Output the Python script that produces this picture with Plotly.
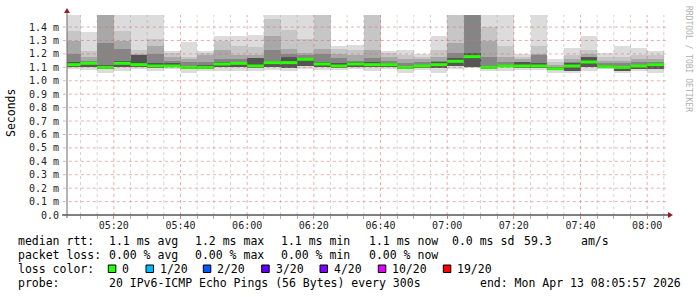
import plotly.graph_objects as go
import pandas as pd

# ---------------- data (ms) ----------------
end_time = pd.Timestamp("2026-04-13 08:05:57")
start_time = end_time - pd.Timedelta(hours=3)
bar_ends = pd.date_range("2026-04-13 05:10", "2026-04-13 08:05", freq="5min")
step_ms = 300000

median = [1.12, 1.13, 1.10, 1.13, 1.12, 1.11, 1.11, 1.10, 1.10, 1.125, 1.13, 1.11,
          1.135, 1.135, 1.16, 1.125, 1.11, 1.125, 1.12, 1.12, 1.10, 1.11, 1.12, 1.145,
          1.18, 1.10, 1.11, 1.11, 1.11, 1.09, 1.11, 1.14, 1.105, 1.10, 1.11, 1.12]
ping_max = [1.5, 1.36, 1.5, 1.5, 1.5, 1.5, 1.225, 1.29, 1.225, 1.33, 1.33, 1.34,
            1.5, 1.5, 1.5, 1.5, 1.26, 1.265, 1.5, 1.22, 1.23, 1.20, 1.33, 1.5,
            1.5, 1.5, 1.5, 1.20, 1.5, 1.16, 1.245, 1.33, 1.21, 1.26, 1.245, 1.22]
upper1 = [1.37, 1.22, 1.5, 1.37, 1.23, 1.31, 1.21, 1.18, 1.21, 1.30, 1.26, 1.25,
          1.46, 1.38, 1.31, 1.5, 1.24, 1.23, 1.5, 1.21, 1.19, 1.18, 1.23, 1.5,
          1.5, 1.40, 1.26, 1.18, 1.26, 1.14, 1.19, 1.23, 1.18, 1.18, 1.19, 1.19]
upper2 = [1.30, 1.18, 1.5, 1.30, 1.20, 1.26, 1.18, 1.165, 1.19, 1.23, 1.19, 1.19,
          1.33, 1.24, 1.21, 1.234, 1.20, 1.19, 1.23, 1.18, 1.16, 1.16, 1.18, 1.28,
          1.5, 1.30, 1.18, 1.16, 1.20, 1.12, 1.16, 1.20, 1.15, 1.15, 1.16, 1.16]
upper3 = [1.20, 1.15, 1.28, 1.24, 1.19, 1.20, 1.15, 1.14, 1.14, 1.16, 1.16, 1.17,
          1.23, 1.20, 1.19, 1.20, 1.17, 1.15, 1.17, 1.15, 1.13, 1.14, 1.15, 1.21,
          1.5, 1.18, 1.14, 1.14, 1.19, 1.105, 1.14, 1.18, 1.13, 1.13, 1.14, 1.14]
upper4 = [1.14, 1.14, 1.12, 1.15, 1.19, 1.13, 1.13, 1.11, 1.12, 1.14, 1.14, 1.17,
          1.15, 1.18, 1.17, 1.14, 1.13, 1.14, 1.14, 1.13, 1.11, 1.12, 1.14, 1.17,
          1.21, 1.11, 1.12, 1.14, 1.13, 1.10, 1.13, 1.18, 1.12, 1.11, 1.12, 1.13]
lower1 = [1.10, 1.10, 1.09, 1.10, 1.10, 1.095, 1.10, 1.09, 1.09, 1.10, 1.10, 1.095,
          1.10, 1.095, 1.11, 1.10, 1.095, 1.10, 1.10, 1.10, 1.085, 1.095, 1.095, 1.11,
          1.10, 1.09, 1.10, 1.095, 1.095, 1.08, 1.07, 1.10, 1.095, 1.07, 1.09, 1.09]
ping_min = [1.085, 1.08, 1.06, 1.07, 1.085, 1.07, 1.085, 1.06, 1.075, 1.07, 1.075, 1.075,
            1.08, 1.07, 1.09, 1.08, 1.08, 1.085, 1.075, 1.085, 1.055, 1.08, 1.06, 1.09,
            1.095, 1.07, 1.07, 1.08, 1.08, 1.06, 1.06, 1.07, 1.085, 1.06, 1.075, 1.06]

y_ticks = [round(0.1 * i, 1) for i in range(15)]
y_ticktext = ["0.0"] + [f"{v:.1f} m" for v in y_ticks[1:]]

loss_labels = ["0", "1/20", "2/20", "3/20", "4/20", "10/20", "19/20"]
loss_colors = ["#26ff00", "#00b8ff", "#0059ff", "#5e00ff", "#7e00ff", "#dd00ff", "#ff0000"]

# ---------------- figure ----------------
W, H = 697, 297
L, R, T, B = 67, 30, 15, 82
PW, PH = W - L - R, H - T - B


def px(x):
    return (x - L) / PW


def py(y):
    return (H - B - y) / PH


centers = bar_ends - pd.Timedelta(milliseconds=step_ms // 2)
fig = go.Figure()

levels = [
    (ping_min, ping_max, "#dcdcdc"),
    (lower1, upper1, "#c6c6c6"),
    (lower1, upper2, "#a8a8a8"),
    (lower1, upper3, "#858585"),
    (lower1, upper4, "#555555"),
]
for lo, hi, col in levels:
    fig.add_trace(go.Bar(
        x=centers, base=lo, y=[h - l for h, l in zip(hi, lo)],
        width=step_ms, marker=dict(color=col, line=dict(width=0)),
        hoverinfo="skip"))

mx, my = [], []
for e, m in zip(bar_ends, median):
    mx += [e - pd.Timedelta(milliseconds=step_ms), e, None]
    my += [m, m, None]
fig.add_trace(go.Scatter(x=mx, y=my, mode="lines",
                         line=dict(color=loss_colors[0], width=3), hoverinfo="skip"))

shapes = []
# grid (above the smoke, like rrdtool)
for t in bar_ends:
    major = t.minute % 20 == 0
    shapes.append(dict(type="line", xref="x", yref="paper", x0=t, x1=t, y0=0, y1=1,
                       layer="above",
                       line=dict(color="rgba(215,110,110,0.55)" if major else "rgba(160,160,160,0.45)",
                                 width=1, dash="dot")))
for v in y_ticks[1:]:
    shapes.append(dict(type="line", xref="paper", yref="y", x0=-0.007, x1=1.002, y0=v, y1=v,
                       layer="above", line=dict(color="rgba(215,110,110,0.55)", width=1, dash="dot")))
# axes
shapes.append(dict(type="line", xref="paper", yref="paper", x0=-0.008, x1=1.002, y0=0, y1=0,
                   layer="above", line=dict(color="black", width=1)))
shapes.append(dict(type="line", xref="paper", yref="paper", x0=0, x1=0, y0=-0.015, y1=1.01,
                   layer="above", line=dict(color="#6a6a6a", width=1)))
# arrows
shapes.append(dict(type="path", xref="paper", yref="paper", layer="above",
                   path=f"M {px(64)},{py(13)} L {px(70)},{py(13)} L {px(67)},{py(8)} Z",
                   fillcolor="#9b1c1c", line=dict(width=0)))
shapes.append(dict(type="path", xref="paper", yref="paper", layer="above",
                   path=f"M {px(668)},{py(212)} L {px(668)},{py(218)} L {px(673)},{py(215)} Z",
                   fillcolor="#9b1c1c", line=dict(width=0)))

annotations = []


def txt(x, y, s, size=11.5, color="#000", **kw):
    d = dict(xref="paper", yref="paper", x=px(x), y=py(y), text=s, showarrow=False,
             xanchor="left", yanchor="middle",
             font=dict(family="DejaVu Sans Mono", size=size, color=color))
    d.update(kw)
    annotations.append(d)


# axis title and watermark
txt(11, 113, "Seconds", textangle=-90, xanchor="center")
txt(688, 59, "RRDTOOL / TOBI OETIKER", size=8, color="#b0b0b0", textangle=90, xanchor="center")

# legend lines
line1 = [(16, "median rtt:"), (107, "1.1 ms avg"), (193, "1.2 ms max"), (279, "1.1 ms min"),
         (366.5, "1.1 ms now"), (450, "0.0 ms sd"), (522, "59.3"), (579, "am/s")]
for x, s in line1:
    txt(x, 241, s)
line2 = [(16, "packet loss:"), (107, "0.00 % avg"), (193, "0.00 % max"), (279, "0.00 % min"),
         (366.5, "0.00 % now")]
for x, s in line2:
    txt(x, 255, s)
txt(16, 269, "loss color:")
box_x = [108.3, 146, 203.3, 261.7, 320, 378.3, 443.3]
for bx, lab, col in zip(box_x, loss_labels, loss_colors):
    shapes.append(dict(type="rect", xref="paper", yref="paper",
                       x0=px(bx), x1=px(bx + 7.5), y0=py(272.5), y1=py(265),
                       fillcolor=col, line=dict(color="black", width=1)))
    txt(bx + 12, 269, lab)
txt(16, 283, "probe:")
txt(107, 283, "20 IPv6-ICMP Echo Pings (56 Bytes) every 300s")
txt(478, 283, "end: Mon Apr 13 08:05:57 2026")

fig.update_layout(
    width=W, height=H, margin=dict(l=L, r=R, t=T, b=B, pad=0),
    paper_bgcolor="white", plot_bgcolor="white",
    showlegend=False, barmode="overlay", bargap=0,
    font=dict(family="DejaVu Sans Mono", size=10, color="#222"),
    shapes=shapes, annotations=annotations,
    xaxis=dict(type="date", range=[start_time, end_time], tickformat="%H:%M",
               dtick=1200000, tick0="2026-04-13 05:20:00",
               ticks="outside", ticklen=3, tickcolor="#d08080",
               ticklabelstandoff=-2,
               showgrid=False, zeroline=False, showline=False,
               minor=dict(dtick=300000, tick0="2026-04-13 05:10:00", ticks="outside",
                          ticklen=3, tickcolor="#b0b0b0", showgrid=False),
               tickfont=dict(family="DejaVu Sans Mono", size=10, color="#222")),
    yaxis=dict(range=[0, 1.49], tickmode="array", tickvals=y_ticks, ticktext=y_ticktext,
               ticks="", showgrid=False, zeroline=False, showline=False,
               ticklabelstandoff=7,
               tickfont=dict(family="DejaVu Sans Mono", size=10, color="#222")),
)

fig.write_html("out.html")
